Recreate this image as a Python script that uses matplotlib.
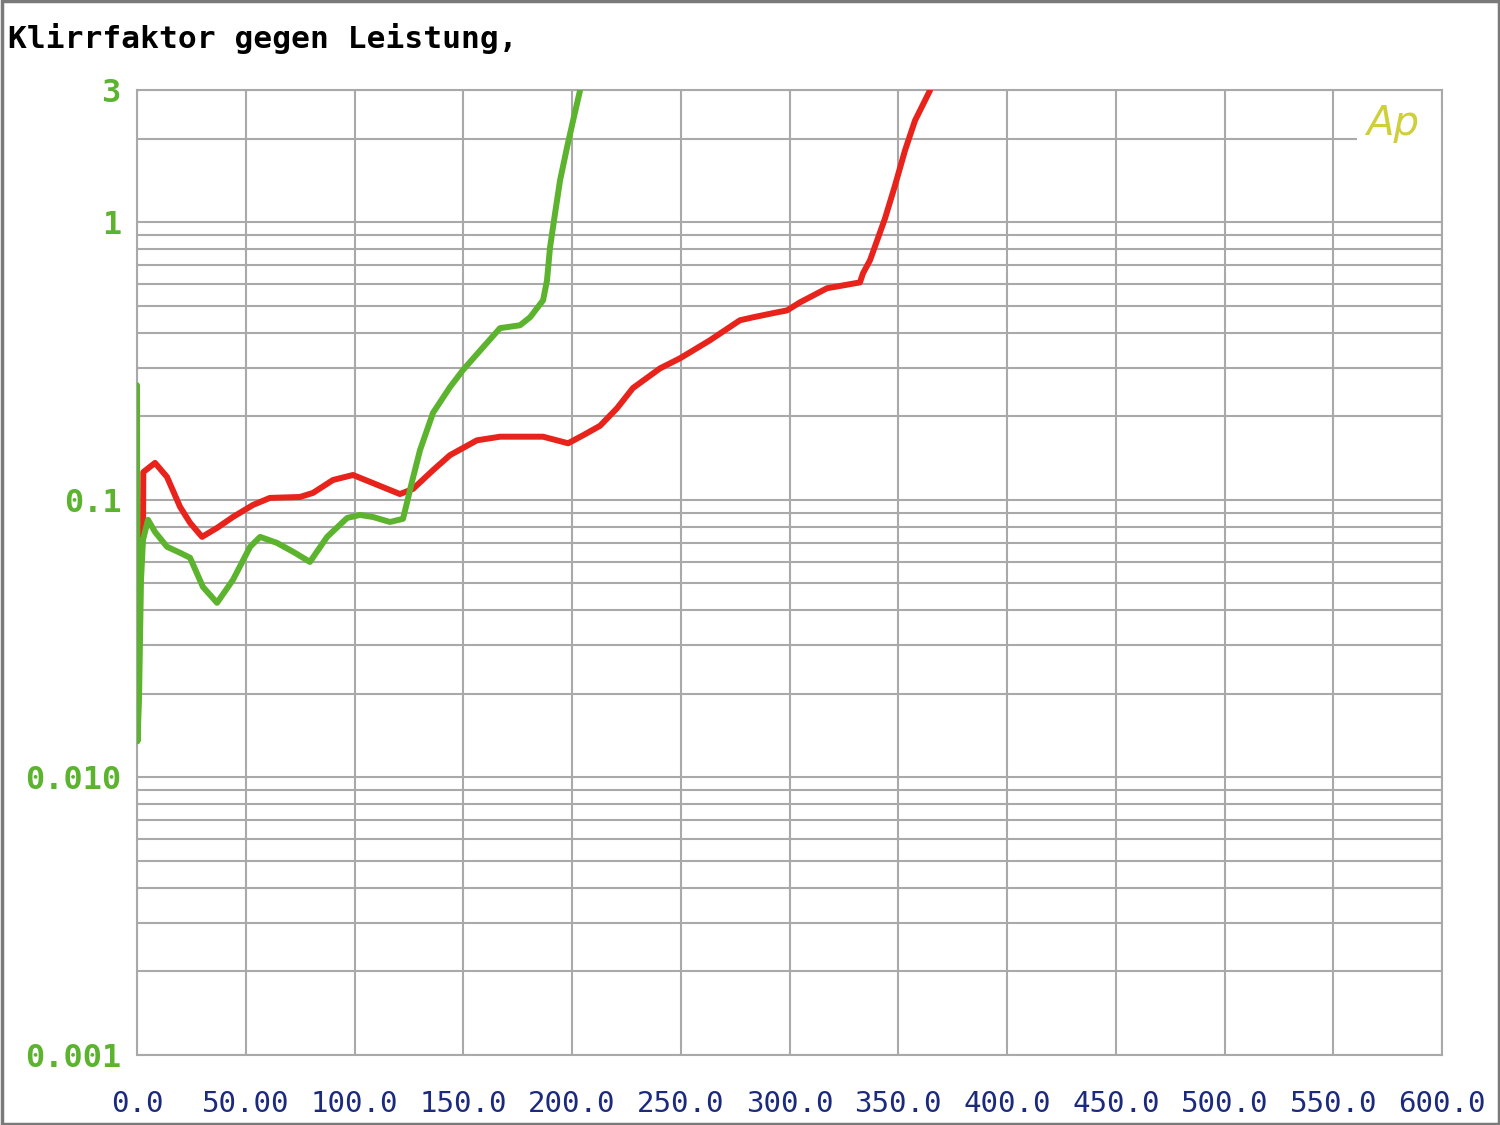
import matplotlib
matplotlib.use('Agg')
import matplotlib.pyplot as plt
from matplotlib.patches import Rectangle
from matplotlib.ticker import LogLocator, NullFormatter

# Klirrfaktor (THD+N, %) gegen Leistung (W)
green_w = [0.0, 0.23, 0.92, 1.84, 2.76, 5.06, 8.28, 13.8, 19.8, 24.4, 30.3, 36.8, 44.1, 52.0,
           56.6, 64.4, 72.6, 79.5, 87.4, 96.6, 102.5, 108.5, 116.3, 122.3, 124.1, 126.4,
           130.1, 136.1, 143.9, 149.9, 159.1, 166.9, 176.1, 180.7, 186.7, 188.5, 189.9,
           192.2, 194.5, 197.7, 200.5, 203.7]
green_thd = [0.259, 0.0135, 0.0191, 0.0515, 0.0718, 0.0848, 0.0767, 0.0678, 0.0645, 0.0619,
             0.0486, 0.0426, 0.0515, 0.0678, 0.0736, 0.0700, 0.0645, 0.0598, 0.0736, 0.0861,
             0.0883, 0.0868, 0.0833, 0.0855, 0.0976, 0.116, 0.151, 0.206, 0.255, 0.294,
             0.355, 0.416, 0.426, 0.455, 0.524, 0.618, 0.813, 1.077, 1.416, 1.862, 2.328, 2.99]

red_w = [2.76, 2.9, 8.28, 13.8, 19.8, 24.4, 29.9, 36.8, 44.1, 53.3, 61.1, 74.9, 80.9, 90.1,
         99.3, 108.5, 120.9, 126.9, 136.1, 143.9, 156.3, 166.9, 186.7, 198.2, 205.1, 212.9,
         220.7, 228.0, 240.5, 249.7, 263.4, 277.2, 283.2, 292.4, 298.9, 304.8, 317.2, 332.4,
         333.8, 337.0, 343.9, 348.5, 353.1, 357.7, 364.6]
red_thd = [0.0736, 0.126, 0.136, 0.121, 0.0944, 0.0827, 0.0736, 0.0793, 0.0868, 0.0959,
           0.1017, 0.1025, 0.106, 0.118, 0.123, 0.115, 0.105, 0.1096, 0.128, 0.145, 0.164,
           0.169, 0.169, 0.160, 0.171, 0.185, 0.214, 0.253, 0.298, 0.324, 0.376, 0.444,
           0.455, 0.471, 0.482, 0.515, 0.579, 0.608, 0.656, 0.730, 1.033, 1.358, 1.816,
           2.328, 2.99]

x_ticks = [0, 50, 100, 150, 200, 250, 300, 350, 400, 450, 500, 550, 600]
x_labels = ['0.0', '50.00', '100.0', '150.0', '200.0', '250.0', '300.0', '350.0',
            '400.0', '450.0', '500.0', '550.0', '600.0']
y_ticks = [0.001, 0.01, 0.1, 1, 3]
y_labels = ['0.001', '0.010', '0.1', '1', '3']

GREEN = '#5cb32e'
RED = '#e8231c'
GRID = '#a9a9a9'
NAVY = '#1c2a7e'

fig = plt.figure(figsize=(15, 11.25), dpi=100)
ax = fig.add_axes([137 / 1500, 1 - 1055 / 1125, 1305 / 1500, 965 / 1125])

ax.plot(red_w, red_thd, color=RED, lw=4.3, solid_joinstyle='round',
        solid_capstyle='round', zorder=3)
ax.plot(green_w, green_thd, color=GREEN, lw=4.3, solid_joinstyle='round',
        solid_capstyle='round', zorder=4)

ax.set_yscale('log')
ax.set_xlim(0, 600)
ax.set_ylim(0.001, 3)

ax.set_xticks(x_ticks)
ax.set_xticklabels(x_labels, family='DejaVu Sans Mono', fontsize=21, color=NAVY)
ax.set_yticks(y_ticks)
ax.set_yticklabels(y_labels, family='DejaVu Sans Mono', fontsize=23,
                   fontweight='bold', color=GREEN)
ax.yaxis.set_minor_locator(LogLocator(base=10, subs=range(2, 10)))
ax.yaxis.set_minor_formatter(NullFormatter())
ax.tick_params(axis='both', which='both', length=0)
ax.tick_params(axis='x', pad=25)
ax.tick_params(axis='y', pad=11)

ax.set_axisbelow(True)
ax.grid(axis='x', which='major', color=GRID, lw=1.5)
ax.grid(axis='y', which='both', color=GRID, lw=1.5)
for s in ax.spines.values():
    s.set_color(GRID)
    s.set_linewidth(1.5)

# Gap in the gridline behind the logo
ax.add_patch(Rectangle((0.935, 0.89), 0.0645, 0.09, transform=ax.transAxes,
                       facecolor='white', edgecolor='none', zorder=1))
ax.text(0.942, 0.965, 'Ap', transform=ax.transAxes, fontsize=29, fontstyle='italic',
        color='#cfcf3a', va='center', ha='left', zorder=5)

fig.text(8 / 1500, 1 - 38 / 1125, 'Klirrfaktor gegen Leistung,', family='DejaVu Sans Mono',
         fontsize=22.5, fontweight='bold', color='black', va='center', ha='left')

fig.patches.append(Rectangle((0.001, 0.001), 0.998, 0.998, transform=fig.transFigure,
                             facecolor='none', edgecolor='#7a7a7a', lw=2.5))

fig.savefig('out.png', dpi=100, facecolor='white')
